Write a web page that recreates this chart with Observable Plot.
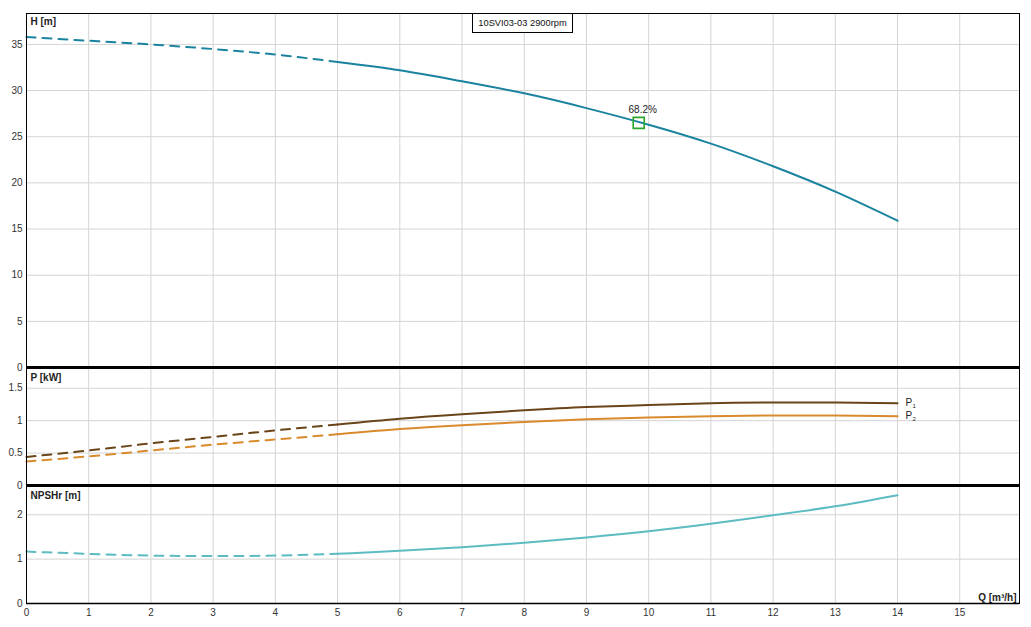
<!DOCTYPE html>
<html><head><meta charset="utf-8">
<script src="https://cdn.jsdelivr.net/npm/d3@7"></script>
<script src="https://cdn.jsdelivr.net/npm/@observablehq/plot@0.6"></script>
<style>
body{margin:0;background:#fff;font-family:"Liberation Sans",Arial,sans-serif;}
#wrap{position:relative;width:1031px;height:627px;}
#wrap svg{display:block;}
#title{position:absolute;left:472px;top:13px;width:99px;height:18px;border:1px solid #000;background:#fff;font-size:9.3px;line-height:18px;text-align:center;color:#111;}
</style></head><body><div id="wrap"><div id="title">10SVI03-03 2900rpm</div></div>
<script>
// Data
const q = [0,1,2,3,4,5,6,7,8,9,10,11,12,13,14];
const head = [35.8,35.4,35.0,34.5,33.9,33.1,32.2,31.0,29.7,28.1,26.3,24.25,21.8,19.05,15.9];
const p1 = [0.44,0.54,0.65,0.75,0.85,0.94,1.03,1.10,1.16,1.21,1.24,1.27,1.28,1.28,1.27];
const p2 = [0.37,0.45,0.54,0.63,0.71,0.79,0.87,0.93,0.98,1.02,1.05,1.07,1.08,1.08,1.07];
const npsh = [1.17,1.12,1.08,1.07,1.08,1.12,1.19,1.27,1.37,1.49,1.63,1.80,1.99,2.19,2.44];
const dashLimit = 5;
const bep = [{q: 9.84, h: 26.5, label: "68.2%"}];
const xTicks = [0,1,2,3,4,5,6,7,8,9,10,11,12,13,14,15];
const hTicks = [0,5,10,15,20,25,30,35];
const pTicks = [0,0.5,1,1.5];
const nTicks = [0,1,2];

const rows = q.map((v,i)=>({q:v, h:head[i], p1:p1[i], p2:p2[i], n:npsh[i]}));
const dashed = rows.filter(d=>d.q<=dashLimit);
const solid = rows.filter(d=>d.q>=dashLimit);

const font = '"Liberation Sans", Arial, sans-serif';
const xDom = [0, 15.96];
const gridC = "#d4d4d4";
const cH = "#1a84a0", cP1 = "#6a4519", cP2 = "#d98a2c", cN = "#5cbcc1";
const curve = "natural";

function base(opts, marks){
  return Plot.plot({
    width: 1031, marginLeft: 26, marginRight: 12,
    style: {background: "transparent", overflow: "visible", fontFamily: font, fontSize: "10px", color: "#333"},
    x: {domain: xDom, axis: null},
    ...opts,
    marks
  });
}
function lines(yk, color){
  return [
    Plot.line(dashed, {x:"q", y:yk, stroke:color, strokeWidth:2, strokeDasharray:"9,7", curve}),
    Plot.line(solid, {x:"q", y:yk, stroke:color, strokeWidth:2, curve})
  ];
}
function yAxis(ticks, fmt){
  return Plot.axisY(ticks, {tickSize:0, tickPadding:4, fontSize:10, fill:"#333", label:null, tickFormat: fmt});
}

const wrap = document.getElementById("wrap");
const titleBox = document.getElementById("title");

const panelH = base({
  height: 367, marginTop: 13, marginBottom: 0,
  y: {domain: [0, 38.35], axis: null}
}, [
  Plot.gridX(xTicks.slice(1), {stroke: gridC, strokeOpacity: 1}),
  Plot.gridY(hTicks.slice(1), {stroke: gridC, strokeOpacity: 1}),
  yAxis(hTicks),
  ...lines("h", cH),
  Plot.dot(bep, {x:"q", y:"h", symbol:"square", r:6.2, stroke:"#2aa52a", strokeWidth:1.6, fill:"none"}),
  Plot.text(bep, {x:"q", y:"h", text:"label", dy:-13, dx:4, fontSize:10, fill:"#222"}),
  Plot.text(["H [m]"], {frameAnchor:"top-left", dx:4, dy:4, fontWeight:"bold", fontSize:10, fill:"#222"}),
  Plot.frame({stroke:"#000", strokeWidth:1}),
  Plot.ruleY([0], {stroke:"#000", strokeWidth:3})
]);

const lastRow = rows.filter(d=>d.q===14);
const panelP = base({
  height: 118, marginTop: 0, marginBottom: 0,
  y: {domain: [0, 1.82], axis: null}
}, [
  Plot.gridX(xTicks.slice(1), {stroke: gridC, strokeOpacity: 1}),
  Plot.gridY(pTicks.slice(1), {stroke: gridC, strokeOpacity: 1}),
  yAxis(pTicks, d=>String(d)),
  ...lines("p2", cP2),
  ...lines("p1", cP1),
  Plot.text(lastRow, {x:"q", y:"p1", text:()=>"P", dx:8, textAnchor:"start", fontSize:10, fill:"#222"}),
  Plot.text(lastRow, {x:"q", y:"p1", text:()=>"1", dx:15, dy:3, textAnchor:"start", fontSize:6, fill:"#222"}),
  Plot.text(lastRow, {x:"q", y:"p2", text:()=>"P", dx:8, textAnchor:"start", fontSize:10, fill:"#222"}),
  Plot.text(lastRow, {x:"q", y:"p2", text:()=>"2", dx:15, dy:3, textAnchor:"start", fontSize:6, fill:"#222"}),
  Plot.text(["P [kW]"], {frameAnchor:"top-left", dx:4, dy:6, fontWeight:"bold", fontSize:10, fill:"#222"}),
  Plot.frame({stroke:"#000", strokeWidth:1}),
  Plot.ruleY([1.82], {stroke:"#000", strokeWidth:3}),
  Plot.ruleY([0], {stroke:"#000", strokeWidth:3})
]);

const panelN = base({
  height: 142, marginTop: 0, marginBottom: 24,
  y: {domain: [0, 2.66], axis: null}
}, [
  Plot.gridX(xTicks.slice(1), {stroke: gridC, strokeOpacity: 1}),
  Plot.gridY(nTicks.slice(1), {stroke: gridC, strokeOpacity: 1}),
  yAxis(nTicks),
  Plot.axisX(xTicks, {tickSize:0, tickPadding:5, fontSize:10, fill:"#333", label:null}),
  ...lines("n", cN),
  Plot.text(["NPSHr [m]"], {frameAnchor:"top-left", dx:4, dy:6, fontWeight:"bold", fontSize:10, fill:"#222"}),
  Plot.text(["Q [m³/h]"], {frameAnchor:"bottom-right", dx:-3, dy:-3, fontWeight:"bold", fontSize:10, fill:"#222"}),
  Plot.frame({stroke:"#000", strokeWidth:1}),
  Plot.ruleY([2.66], {stroke:"#000", strokeWidth:3}),
  Plot.ruleY([0], {stroke:"#000", strokeWidth:1.5})
]);

wrap.insertBefore(panelH, titleBox);
wrap.insertBefore(panelP, titleBox);
wrap.insertBefore(panelN, titleBox);
</script>
</body></html>
